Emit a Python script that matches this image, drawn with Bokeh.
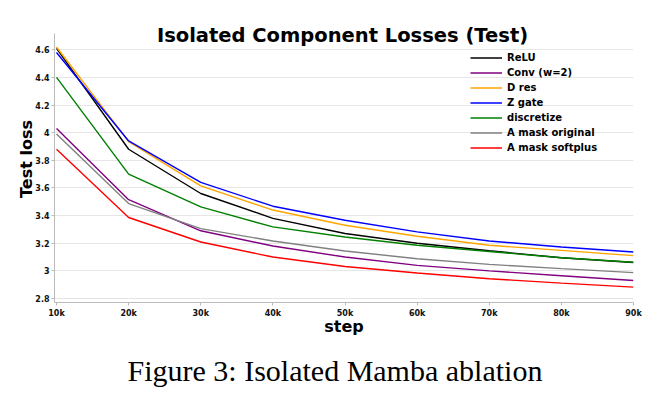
from bokeh.plotting import figure
from bokeh.models import (Range1d, FixedTicker, CustomJSTickFormatter, Label, Title)
from bokeh.embed import file_html
from bokeh.resources import INLINE

# Test loss per training step for each isolated component ablation
steps = [10000, 20000, 30000, 40000, 50000, 60000, 70000, 80000, 90000]

relu = [4.61, 3.88, 3.56, 3.38, 3.27, 3.20, 3.145, 3.095, 3.06]
conv_w2 = [4.03, 3.515, 3.29, 3.18, 3.10, 3.04, 3.00, 2.965, 2.93]
d_res = [4.62, 3.935, 3.615, 3.44, 3.33, 3.25, 3.185, 3.148, 3.11]
z_gate = [4.58, 3.94, 3.64, 3.468, 3.366, 3.282, 3.216, 3.173, 3.136]
discretize = [4.40, 3.70, 3.463, 3.318, 3.245, 3.185, 3.14, 3.095, 3.062]
a_mask_original = [3.99, 3.487, 3.306, 3.216, 3.144, 3.088, 3.047, 3.016, 2.987]
a_mask_softplus = [3.88, 3.386, 3.209, 3.10, 3.032, 2.984, 2.943, 2.911, 2.882]

series_names = ["ReLU", "Conv (w=2)", "D res", "Z gate", "discretize",
                "A mask original", "A mask softplus"]
series_values = [relu, conv_w2, d_res, z_gate, discretize,
                 a_mask_original, a_mask_softplus]
series_colors = ["black", "purple", "orange", "blue", "green", "gray", "red"]

x_ticks = [10000, 20000, 30000, 40000, 50000, 60000, 70000, 80000, 90000]
y_ticks = [2.8, 3.0, 3.2, 3.4, 3.6, 3.8, 4.0, 4.2, 4.4, 4.6]

TICK_FONT = "DejaVu Sans"

# the plot area reaches above the axis so the heading can sit inside it
Y_AXIS_TOP = 4.716
p = figure(width=662, height=403, output_backend="svg", toolbar_location=None,
           x_range=Range1d(9720, 90000), y_range=Range1d(2.771, 4.848),
           min_border_left=54, min_border_right=29, min_border_top=15,
           min_border_bottom=101)
p.title = None
p.outline_line_color = None
p.background_fill_color = "white"
p.border_fill_color = "white"

for name, vals, color in zip(series_names, series_values, series_colors):
    p.line(steps, vals, line_color=color, line_width=1.4, legend_label=name)

# grid: horizontal only
p.xgrid.grid_line_color = None
p.ygrid.grid_line_color = "#e6e6e6"
p.ygrid.grid_line_width = 1

# axes
for ax in (p.xaxis[0], p.yaxis[0]):
    ax.axis_line_color = "#bbbbbb"
    ax.major_tick_line_color = "#bbbbbb"
    ax.major_tick_out = 3
    ax.major_tick_in = 0
    ax.minor_tick_line_color = None
    ax.major_label_text_font = TICK_FONT
    ax.major_label_text_font_style = "bold"
    ax.major_label_text_font_size = "8px"
    ax.major_label_text_color = "#111111"
    ax.axis_label_text_font = TICK_FONT
    ax.axis_label_text_font_style = "bold"
    ax.axis_label_text_font_size = "16px"
    ax.axis_label_text_color = "black"

p.xaxis.ticker = FixedTicker(ticks=x_ticks)
p.xaxis.formatter = CustomJSTickFormatter(code="return (tick / 1000) + 'k';")
p.xaxis.axis_label = "step"
p.xaxis.major_label_standoff = 3
p.xaxis.axis_label_standoff = -4

p.yaxis.ticker = FixedTicker(ticks=y_ticks)
p.yaxis.formatter = CustomJSTickFormatter(
    code="return (Math.round(tick * 10) / 10).toString();")
p.yaxis.axis_label = "Test loss"
p.yaxis.major_label_standoff = 2
p.yaxis.axis_label_standoff = -4
p.yaxis.bounds = (2.771, Y_AXIS_TOP)

# legend
lg = p.legend[0]
lg.location = (416, 147)
lg.background_fill_alpha = 0
lg.border_line_color = None
lg.padding = 0
lg.margin = 0
lg.spacing = 0
lg.glyph_width = 32
lg.glyph_height = 15
lg.label_height = 15
lg.label_standoff = 5
lg.label_text_font = TICK_FONT
lg.label_text_font_style = "bold"
lg.label_text_font_size = "10px"
lg.label_text_color = "black"

# chart heading
p.add_layout(Label(x=288, y=267, x_units="screen", y_units="screen",
                   text="Isolated Component Losses (Test)", text_align="center",
                   text_baseline="alphabetic", text_font=TICK_FONT,
                   text_font_style="bold", text_font_size="19.5px",
                   text_color="black"))

# figure caption below the chart
caption = Title(text="Figure 3: Isolated Mamba ablation", align="left",
                text_font="Liberation Serif", text_font_style="normal",
                text_font_size="30px", text_color="black", offset=73,
                standoff=26)
p.add_layout(caption, "below")

open("out.html", "w").write(file_html(p, INLINE))
